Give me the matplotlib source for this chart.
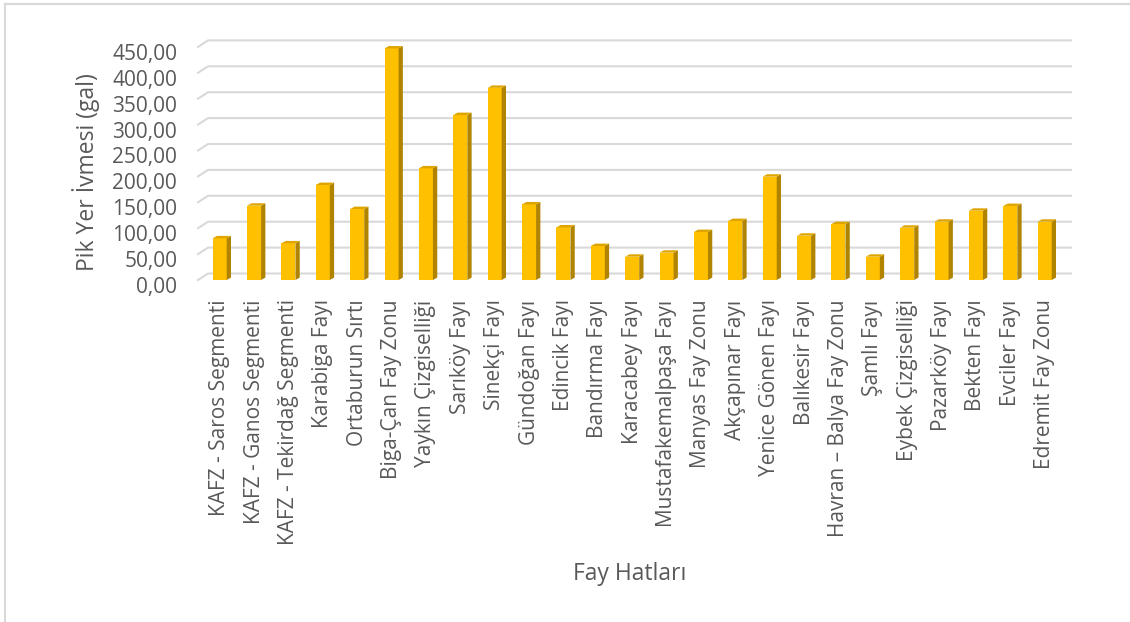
import matplotlib
matplotlib.use("Agg")
import matplotlib.pyplot as plt
from matplotlib.patches import Polygon
from matplotlib.lines import Line2D
from matplotlib.transforms import ScaledTranslation

# Fault lines and their peak ground acceleration (gal)
faults = [
    "KAFZ - Saros Segmenti", "KAFZ - Ganos Segmenti", "KAFZ - Tekirdağ Segmenti",
    "Karabiga Fayı", "Ortaburun Sırtı", "Biga-Çan Fay Zonu", "Yaykın Çizgiselliği",
    "Sarıköy Fayı", "Sinekçi Fayı", "Gündoğan Fayı", "Edincik Fayı", "Bandırma Fayı",
    "Karacabey Fayı", "Mustafakemalpaşa Fayı", "Manyas Fay Zonu", "Akçapınar Fayı",
    "Yenice Gönen Fayı", "Balıkesir Fayı", "Havran – Balya Fay Zonu", "Şamlı Fayı",
    "Eybek Çizgiselliği", "Pazarköy Fayı", "Bekten Fayı", "Evciler Fayı",
    "Edremit Fay Zonu",
]
pga = [80.5, 143.5, 70.8, 183.4, 137.0, 447.0, 215.6, 318.5, 371.0, 146.0,
       101.6, 65.6, 45.0, 52.8, 92.7, 113.9, 199.5, 85.6, 108.0, 45.0,
       101.0, 112.6, 133.8, 142.9, 112.6]
y_ticks = [0, 50, 100, 150, 200, 250, 300, 350, 400, 450]
y_tick_labels = ["0,00", "50,00", "100,00", "150,00", "200,00", "250,00",
                 "300,00", "350,00", "400,00", "450,00"]

FONT = "Open Sans"
TXT = "#595959"
GRID = "#D9D9D9"
FRONT = "#FFC000"
SIDE = "#B08400"
TOP = "#DEA500"

W, H = 1130, 622
fig = plt.figure(figsize=(W / 100, H / 100), dpi=100)
fig.patch.set_facecolor("white")

# plot area (front plane) in pixels
left_px, right_px = 198, 1061
bottom_px, top_px = 280, 46.9
ax = fig.add_axes([left_px / W, (H - bottom_px) / H,
                   (right_px - left_px) / W, (bottom_px - top_px) / H])
n = len(faults)
xmin, xmax = -0.631, 24.474
ax.set_xlim(xmin, xmax)
ax.set_ylim(0, 450)
for s in ax.spines.values():
    s.set_visible(False)
ax.patch.set_alpha(0)

px_x = (right_px - left_px) / (xmax - xmin)   # pixels per x unit
px_y = (bottom_px - top_px) / 450.0           # pixels per y unit

# back wall gridlines with a short receding segment on the left
gdx, gdy = 10 / px_x, 6.5 / px_y
for v in y_ticks:
    ax.add_line(Line2D([xmin, xmin + gdx, xmax + gdx], [v, v + gdy, v + gdy],
                       color=GRID, lw=1.5, clip_on=False, zorder=1))

# 3D-looking columns: front face, side face and top face
bw = 14 / px_x
ddx, ddy = 4.3 / px_x, 2.4 / px_y
xs = list(range(n))
ax.bar(xs, pga, width=bw, color=FRONT, edgecolor="none", zorder=3)
for x, v in zip(xs, pga):
    xr = x + bw / 2
    xl = x - bw / 2
    ax.add_patch(Polygon([(xr, 0), (xr, v), (xr + ddx, v + ddy), (xr + ddx, ddy)],
                         closed=True, facecolor=SIDE, edgecolor="none",
                         zorder=3, clip_on=False))
    ax.add_patch(Polygon([(xl, v), (xr, v), (xr + ddx, v + ddy), (xl + ddx, v + ddy)],
                         closed=True, facecolor=TOP, edgecolor="none",
                         zorder=3, clip_on=False))

ax.set_yticks(y_ticks)
ax.set_yticklabels(y_tick_labels, fontfamily=FONT, fontsize=15, color=TXT)
ax.set_xticks(xs)
ax.set_xticklabels(faults, rotation=90, fontfamily=FONT, fontsize=15, color=TXT)
ax.tick_params(axis="y", length=0, pad=15)
ax.tick_params(axis="x", length=0, pad=14)
shift = ScaledTranslation(0, -5 / 100, fig.dpi_scale_trans)
for lab in ax.get_yticklabels():
    lab.set_transform(lab.get_transform() + shift)

fig.text(86 / W, 1 - 172 / H, "Pik Yer İvmesi (gal)", rotation=90,
         ha="center", va="center", fontfamily=FONT, fontsize=16.5, color=TXT)
fig.text(630 / W, 1 - 574.5 / H, "Fay Hatları", ha="center", va="center",
         fontfamily=FONT, fontsize=16.5, color=TXT)

# chart area border (left and top edges)
fig.add_artist(Line2D([4.5 / W, 4.5 / W], [0, 1 - 3.5 / H], transform=fig.transFigure,
                      color=GRID, lw=1.5))
fig.add_artist(Line2D([4.5 / W, 1], [1 - 3.5 / H, 1 - 3.5 / H], transform=fig.transFigure,
                      color=GRID, lw=1.5))

fig.savefig("out.png", dpi=100)
